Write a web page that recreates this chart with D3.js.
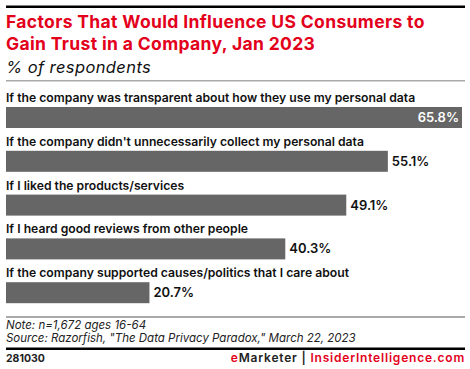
<!DOCTYPE html>
<html><head><meta charset="utf-8">
<script src="https://cdn.jsdelivr.net/npm/d3@7"></script>
<style>body{margin:0;background:#fff}svg{display:block}text{font-family:Inter,"Noto Sans",sans-serif}</style>
</head><body>
<script>
const categories = [
  "If the company was transparent about how they use my personal data",
  "If the company didn't unnecessarily collect my personal data",
  "If I liked the products/services",
  "If I heard good reviews from other people",
  "If the company supported causes/politics that I care about"
];
const values = [65.8, 55.1, 49.1, 40.3, 20.7];
const valueLabels = ["65.8%", "55.1%", "49.1%", "40.3%", "20.7%"];

const W = 470, H = 369;
const svg = d3.select("body").append("svg").attr("width", W).attr("height", H);

svg.append("rect").attr("x", 6).attr("y", 5.5).attr("width", 459).attr("height", 2.5).attr("fill", "#000");
svg.append("text").attr("x", 6).attr("y", 28).attr("font-size", 17.5).attr("font-weight", 700).attr("fill", "#e3001b")
  .attr("letter-spacing", 0.35).text("Factors That Would Influence US Consumers to");
svg.append("text").attr("x", 6).attr("y", 50).attr("font-size", 17.5).attr("font-weight", 700).attr("fill", "#e3001b")
  .attr("letter-spacing", 0.35).text("Gain Trust in a Company, Jan 2023");
svg.append("text").attr("x", 6).attr("y", 73).attr("font-size", 16.5).attr("font-style", "italic").attr("fill", "#111")
  .attr("letter-spacing", 0.4).text("% of respondents");
svg.append("rect").attr("x", 6).attr("y", 80).attr("width", 459).attr("height", 1.5).attr("fill", "#aaa");

const x = d3.scaleLinear().domain([0, 65.8]).range([6, 462]);
const y = d3.scaleBand().domain(categories).range([86, 305]).paddingInner(0).paddingOuter(0);
const barH = 21;

const g = svg.append("g");
const rows = g.selectAll("g.row").data(categories).join("g").attr("class", "row")
  .attr("transform", d => `translate(0,${y(d)})`);

rows.append("text").attr("x", 6).attr("y", 16).attr("font-size", 12.2).attr("font-weight", 600).attr("fill", "#111")
  .text(d => d);
rows.append("rect").attr("x", x(0)).attr("y", 21).attr("height", barH)
  .attr("width", (d, i) => x(values[i]) - x(0)).attr("fill", "#666666");
rows.append("text")
  .attr("x", (d, i) => i === 0 ? x(values[i]) - 3 : x(values[i]) + 4)
  .attr("y", 36).attr("text-anchor", (d, i) => i === 0 ? "end" : "start")
  .attr("font-size", 13).attr("font-weight", 600)
  .attr("fill", (d, i) => i === 0 ? "#fff" : "#111")
  .text((d, i) => valueLabels[i]);

svg.append("rect").attr("x", 6).attr("y", 316.5).attr("width", 459).attr("height", 1).attr("fill", "#555");
svg.append("text").attr("x", 6).attr("y", 329).attr("font-size", 11.5).attr("font-style", "italic").attr("fill", "#222")
  .text("Note: n=1,672 ages 16-64");
svg.append("text").attr("x", 6).attr("y", 342).attr("font-size", 11.5).attr("font-style", "italic").attr("fill", "#222")
  .text("Source: Razorfish, \"The Data Privacy Paradox,\" March 22, 2023");
svg.append("rect").attr("x", 6).attr("y", 347.5).attr("width", 459).attr("height", 2.5).attr("fill", "#000");
svg.append("text").attr("x", 6).attr("y", 362).attr("font-size", 10.5).attr("font-weight", 700).attr("fill", "#222").text("281030");
const foot = svg.append("text").attr("x", 465).attr("y", 362).attr("text-anchor", "end").attr("font-size", 12)
  .attr("font-weight", 600).attr("letter-spacing", 0.8);
foot.append("tspan").attr("fill", "#e3001b").text("e");
foot.append("tspan").attr("fill", "#222").text("Marketer  |  ");
foot.append("tspan").attr("fill", "#e3001b").text("InsiderIntelligence.com");
</script>
</body></html>
